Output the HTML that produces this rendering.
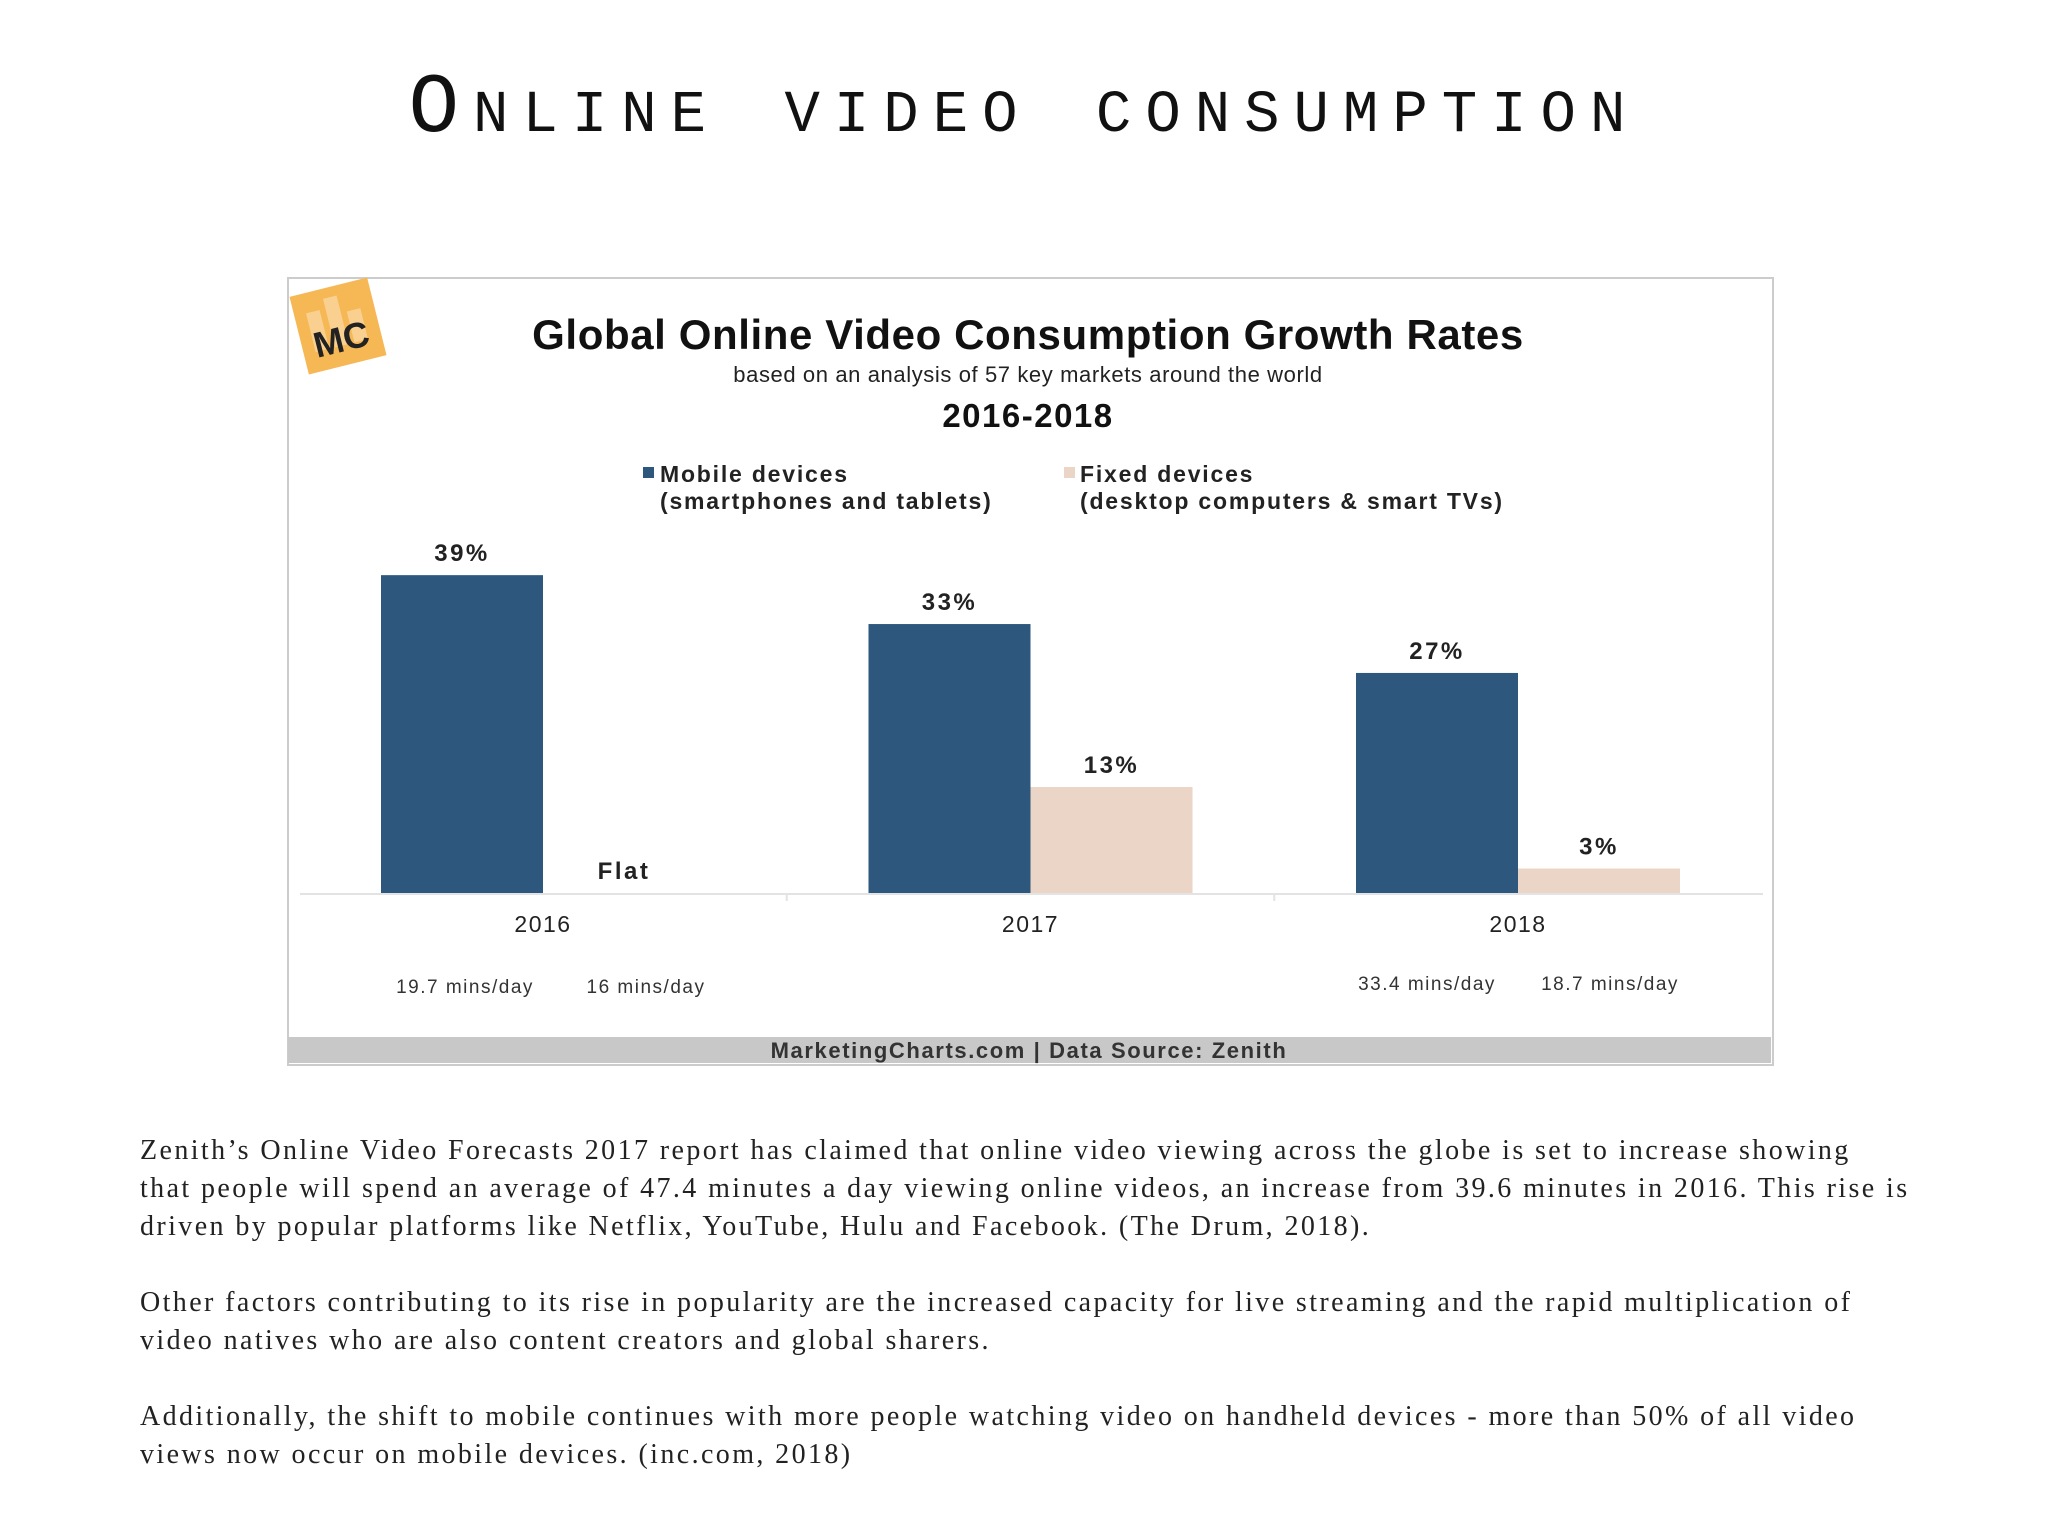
<!DOCTYPE html>
<html><head><meta charset="utf-8">
<style>
body{margin:0;width:2048px;height:1536px;background:#fff;position:relative;overflow:hidden;font-family:"Liberation Sans",sans-serif}
.abs{position:absolute;white-space:nowrap}
#title{left:0;width:2048px;top:62px;text-align:center;font-family:"Liberation Mono",monospace;font-size:84px;font-variant:small-caps;letter-spacing:14px;color:#111}
#chartbox{left:287px;top:277px;width:1483px;height:785px;border:2px solid #ccc;background:#fff}
.para{left:140px;font-family:"Liberation Serif",serif;font-size:28px;letter-spacing:2.4px;color:#222;line-height:38px}
</style></head><body>
<div id="title" class="abs">Online video consumption</div>
<div id="chartbox" class="abs"></div>
<svg class="abs" style="left:0;top:0" width="2048" height="1536">
 <g transform="translate(338,326) rotate(-14)">
  <rect x="-40" y="-40" width="80" height="80" fill="#f6b755"/>
  <rect x="-28" y="-20" width="14" height="40" fill="#f9d08f"/>
  <rect x="-8" y="-30" width="14" height="50" fill="#f9d08f"/>
  <rect x="12" y="-12" width="14" height="32" fill="#f9d08f"/>
  <text x="0" y="26" text-anchor="middle" font-family="Liberation Sans" font-weight="bold" font-size="36" fill="#222">MC</text>
 </g>
 <text x="1028" y="349" text-anchor="middle" font-weight="bold" font-size="42" letter-spacing="0.6" fill="#111">Global Online Video Consumption Growth Rates</text>
 <text x="1028" y="382" text-anchor="middle" font-size="22" letter-spacing="0.6" fill="#222">based on an analysis of 57 key markets around the world</text>
 <text x="1028" y="427" text-anchor="middle" font-weight="bold" font-size="33" letter-spacing="1.5" fill="#111">2016-2018</text>
 <g>
  <rect x="643" y="467" width="11" height="11" fill="#2d577c"/>
  <text x="660" y="482" font-weight="bold" font-size="23" letter-spacing="1.8" fill="#222">Mobile devices</text>
  <text x="660" y="509" font-weight="bold" font-size="23" letter-spacing="1.8" fill="#222">(smartphones and tablets)</text>
 </g>
 <g>
  <rect x="1064" y="467" width="11" height="11" fill="#ead5c6"/>
  <text x="1080" y="482" font-weight="bold" font-size="23" letter-spacing="1.8" fill="#222">Fixed devices</text>
  <text x="1080" y="509" font-weight="bold" font-size="23" letter-spacing="1.8" fill="#222">(desktop computers &amp; smart TVs)</text>
 </g>
 <g id="plot"></g>
 <rect x="288" y="1037" width="1483" height="26" fill="#c8c8c8"/>
 <text x="1029" y="1058" text-anchor="middle" font-weight="bold" font-size="22" letter-spacing="1.6" fill="#333">MarketingCharts.com | Data Source: Zenith</text>
</svg>
<div class="abs para" style="top:1132px">Zenith’s Online Video Forecasts 2017 report has claimed that online video viewing across the globe is set to increase showing<br>that people will spend an average of 47.4 minutes a day viewing online videos, an increase from 39.6 minutes in 2016. This rise is<br>driven by popular platforms like Netflix, YouTube, Hulu and Facebook. (The Drum, 2018).</div>
<div class="abs para" style="top:1284px">Other factors contributing to its rise in popularity are the increased capacity for live streaming and the rapid multiplication of<br>video natives who are also content creators and global sharers.</div>
<div class="abs para" style="top:1398px">Additionally, the shift to mobile continues with more people watching video on handheld devices - more than 50% of all video<br>views now occur on mobile devices. (inc.com, 2018)</div>
<script>
const categories=["2016","2017","2018"];
const mobileValues=[39,33,27];
const fixedValues=[0,13,3];
const mobileLabels=["39%","33%","27%"];
const fixedLabels=["Flat","13%","3%"];
const minsMobile=["19.7 mins/day","","33.4 mins/day"];
const minsFixed=["16 mins/day","","18.7 mins/day"];
const NS="http://www.w3.org/2000/svg";
const g=document.getElementById('plot');
const base=893, scale=8.15, gx0=543, gstep=487.5, bw=162;
function y(v){return base-v*scale;}
function cx(i){return gx0+i*gstep;}
function mk(t,a,txt){const e=document.createElementNS(NS,t);for(const k in a)e.setAttribute(k,a[k]);if(txt!==undefined)e.textContent=txt;g.appendChild(e);return e;}
let ax=mk('line',{x1:300,x2:1763,y1:base+1,y2:base+1,stroke:'#e3e3e3','stroke-width':2});


categories.forEach((c,i)=>{
 const x=cx(i);
 let b=mk('rect',{x:x-bw,y:y(mobileValues[i]),width:bw,height:mobileValues[i]*scale,fill:'#2d577c'});
 
 
 let l=mk('text',{x:x-bw/2,y:y(mobileValues[i])-14,'text-anchor':'middle','font-weight':'bold','font-size':24,'letter-spacing':2.5,fill:'#222'},mobileLabels[i]);
 
 
 if(fixedValues[i]>0){
  let f=mk('rect',{x:x,y:y(fixedValues[i]),width:bw,height:fixedValues[i]*scale,fill:'#ead5c6'});
  
  
 }
 let fl=mk('text',{x:fixedValues[i]>0?x+bw/2:x+81,y:y(fixedValues[i])-14,'text-anchor':'middle','font-weight':'bold','font-size':24,'letter-spacing':2.5,fill:'#222'},fixedLabels[i]);
 
 
 let t=mk('text',{x:x,y:932,'text-anchor':'middle','font-size':23,'letter-spacing':1.5,fill:'#222'},c);
 
 
 if(i>0){let tk=mk('line',{x1:x-gstep/2,x2:x-gstep/2,y1:base+1,y2:base+8,stroke:'#e3e3e3','stroke-width':2});
  
  }
 const my=i==0?993:990;
 if(minsMobile[i]){let m=mk('text',{x:x-(i==0?78:91),y:my,'text-anchor':'middle','font-size':19,'letter-spacing':1.5,fill:'#333'},minsMobile[i]);
  
  }
 if(minsFixed[i]){let m=mk('text',{x:x+(i==0?103:92),y:my,'text-anchor':'middle','font-size':19,'letter-spacing':1.5,fill:'#333'},minsFixed[i]);
  
  }
});
</script>
</body></html>
